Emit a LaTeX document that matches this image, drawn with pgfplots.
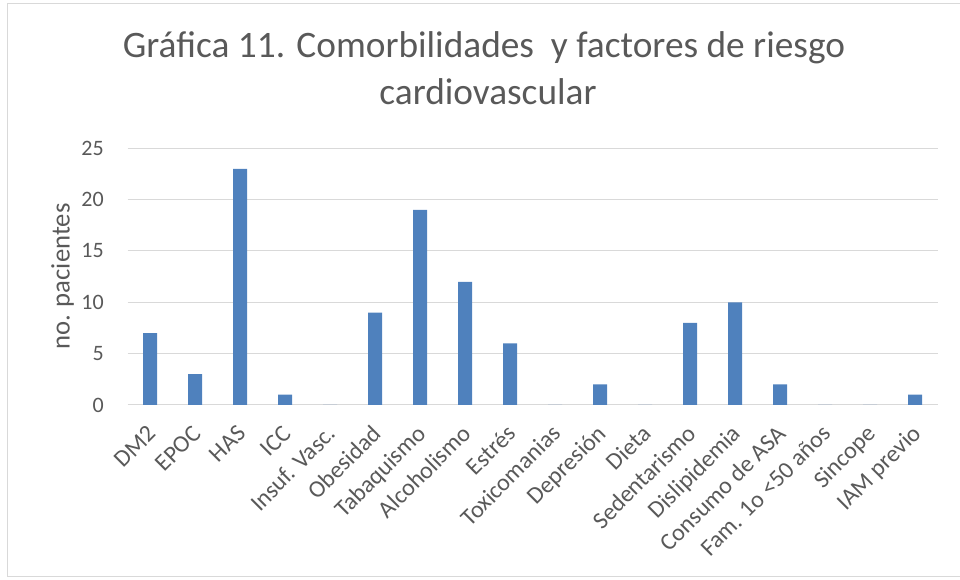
\documentclass[border=0pt]{standalone}
\usepackage{pgfplots}
\pgfplotsset{compat=1.18}
\usepackage{fontspec}
\setmainfont{Carlito}
\definecolor{barblue}{HTML}{4F81BD}
\definecolor{gridgray}{HTML}{D9D9D9}
\definecolor{txtgray}{HTML}{595959}
\begin{document}
\begin{tikzpicture}
\useasboundingbox (0,0) rectangle (720pt,435pt);
\draw[gridgray, line width=0.75pt] (720pt,432pt) -- (5.25pt,432pt) -- (5.25pt,2.25pt) -- (720pt,2.25pt);
\node[anchor=base, text=txtgray, font=\fontsize{28}{33}\selectfont, inner sep=0pt] at (363pt,391.5pt) {Gráfica 11. Comorbilidades\ \ y factores de riesgo};
\node[anchor=base, text=txtgray, font=\fontsize{28}{33}\selectfont, inner sep=0pt] at (366pt,356.25pt) {cardiovascular};
\begin{axis}[
  at={(95.625pt,131.25pt)}, anchor=south west,
  width=607.5pt, height=192.5pt, scale only axis,
  xmin=-0.5, xmax=17.5, ymin=0, ymax=25,
  ytick={0,5,10,15,20,25},
  xtick={0,...,17},
  xticklabels={DM2,EPOC,HAS,ICC,Insuf. Vasc.,Obesidad,Tabaquismo,Alcoholismo,Estrés,Toxicomanias,Depresión,Dieta,Sedentarismo,Dislipidemia,Consumo de ASA,Fam. 1o <50 años,Sincope,IAM previo},
  ymajorgrids,
  major grid style={gridgray, line width=0.75pt},
  axis line style={draw=none},
  tick style={draw=none},
  /pgf/number format/assume math mode=true,
  ticklabel style={text=txtgray, inner sep=0pt},
  yticklabel style={font=\fontsize{16.5}{19}\selectfont, anchor=east, xshift=-17.6pt},
  xticklabel style={font=\fontsize{18}{21}\selectfont, text height=12pt, text depth=3.5pt, xshift=2.5pt, yshift=-19.5pt, rotate=45, anchor=east},
  every axis y label/.style={at={(axis description cs:0,0.5)}, xshift=-48.6pt, rotate=90, anchor=center},
  ylabel={no. pacientes},
  ylabel style={text=txtgray, font=\fontsize{20}{23}\selectfont, inner sep=0pt},
  clip=false,
]
\addplot[ybar, bar width=10.5pt, fill=barblue, draw=none] coordinates {
(0,7) (1,3) (2,23) (3,1) (4,0) (5,9) (6,19) (7,12) (8,6) (9,0) (10,2) (11,0) (12,8) (13,10) (14,2) (15,0) (16,0) (17,1)};
\end{axis}
\end{tikzpicture}
\end{document}
